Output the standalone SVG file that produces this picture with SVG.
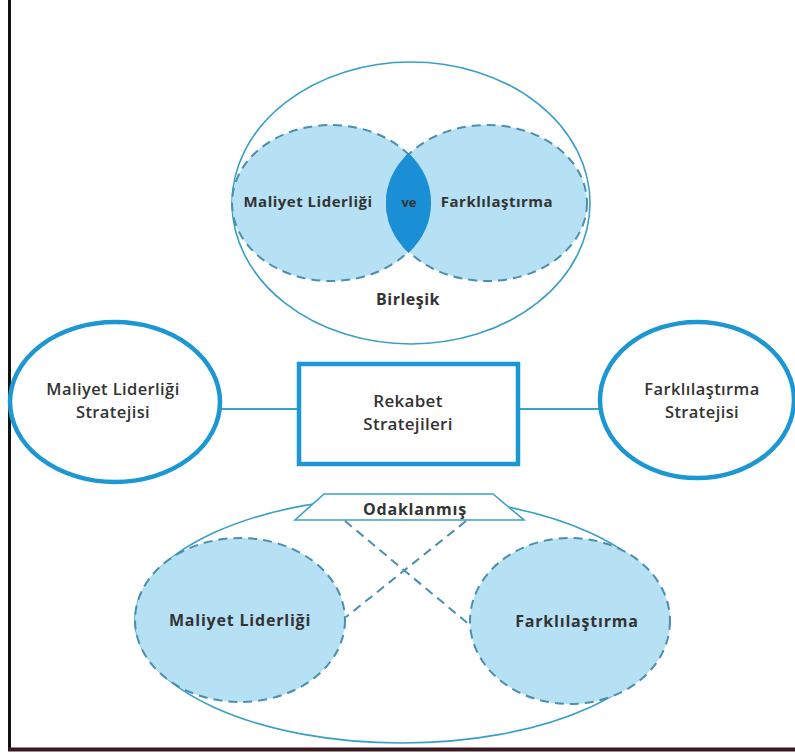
<svg xmlns="http://www.w3.org/2000/svg" width="795" height="754" viewBox="0 0 795 754">
<defs>
<style>
.outer{fill:none;stroke:#3a9fc6;stroke-width:1.6}
.dash{fill:#b6e1f5;stroke:#4a8fae;stroke-width:2;stroke-dasharray:9 6}
.thick{fill:#fff;stroke:#1d97d3;stroke-width:4.5}
.conn{stroke:#3aa0cc;stroke-width:2;fill:none}
.dline{stroke:#4a8fae;stroke-width:2;stroke-dasharray:9 6;fill:none}
.tb{font-family:"Open Sans","DejaVu Sans",sans-serif;font-weight:700;fill:#333;text-anchor:middle}
.ts{font-family:"Open Sans","DejaVu Sans",sans-serif;font-weight:600;fill:#333;text-anchor:middle}
</style>
</defs>
<rect x="0" y="0" width="795" height="754" fill="#fff"/>
<line x1="9.5" y1="0" x2="9.5" y2="750" stroke="#111" stroke-width="3"/>
<line x1="8" y1="749.5" x2="795" y2="749.5" stroke="#3a1a22" stroke-width="4"/>

<g id="connectors">
<line class="conn" x1="220" y1="409" x2="298" y2="409"/>
<line class="conn" x1="519" y1="409" x2="600" y2="409"/>
<line class="dline" x1="345" y1="521" x2="471" y2="626"/>
<line class="dline" x1="466" y1="521" x2="346" y2="617"/>
</g>

<g id="birlesik">
<ellipse class="outer" cx="411" cy="203" rx="179" ry="141"/>
<ellipse class="dash" cx="331" cy="203" rx="99" ry="78"/>
<ellipse class="dash" cx="487" cy="203" rx="100" ry="78"/>
<path d="M408.6,154.6 A99,78 0 0 1 408.6,251.4 A100,78 0 0 1 408.6,154.6 Z" fill="#1b8fd6" stroke="#1b8fd6" stroke-width="2.2"/>
<text class="tb" x="308" y="207" font-size="15" letter-spacing="0.5">Maliyet Liderliği</text>
<text class="tb" x="409" y="207" font-size="13">ve</text>
<text class="tb" x="497" y="207" font-size="15" letter-spacing="0.5">Farklılaştırma</text>
<text class="tb" x="408" y="305" font-size="16" letter-spacing="0.5">Birleşik</text>
</g>

<g id="maliyet-stratejisi">
<ellipse class="thick" cx="115" cy="402" rx="105" ry="80"/>
<text class="ts" font-size="16.5" letter-spacing="0.4"><tspan x="113" y="395">Maliyet Liderliği</tspan><tspan x="113" dy="22.6">Stratejisi</tspan></text>
</g>

<g id="rekabet">
<rect class="thick" x="299" y="364" width="219" height="100" stroke-width="5"/>
<text class="ts" font-size="17" letter-spacing="0.3"><tspan x="408" y="407">Rekabet</tspan><tspan x="408" dy="23.4">Stratejileri</tspan></text>
</g>

<g id="farklilastirma-stratejisi">
<ellipse class="thick" cx="697" cy="400" rx="97" ry="78"/>
<text class="ts" font-size="16.5" letter-spacing="0.4"><tspan x="702" y="395">Farklılaştırma</tspan><tspan x="702" dy="22.6">Stratejisi</tspan></text>
</g>

<g id="odaklanmis">
<ellipse class="outer" cx="402" cy="620" rx="267" ry="123"/>
<ellipse class="dash" cx="240" cy="620" rx="105" ry="82"/>
<ellipse class="dash" cx="570" cy="621" rx="100" ry="83"/>
<polygon points="324,494 493,494 524,520 295,520" fill="#fff" stroke="#3a9fc6" stroke-width="1.6"/>
<text class="tb" x="415" y="515" font-size="16" letter-spacing="0.8">Odaklanmış</text>
<text class="tb" x="240" y="626" font-size="16" letter-spacing="0.8">Maliyet Liderliği</text>
<text class="tb" x="577" y="627" font-size="16" letter-spacing="0.8">Farklılaştırma</text>
</g>
</svg>
